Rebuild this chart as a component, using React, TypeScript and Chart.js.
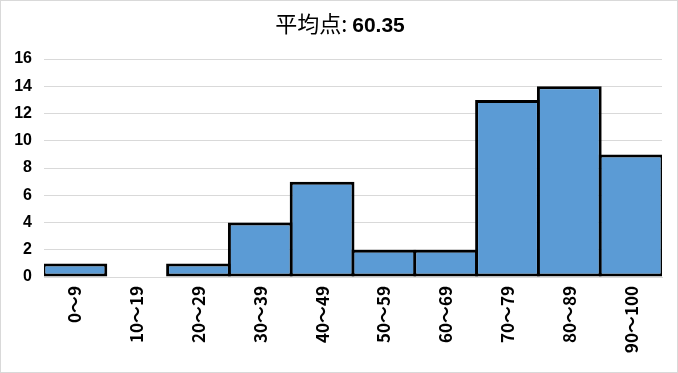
import React, { useEffect, useRef } from "react";
import { Chart, registerables } from "chart.js";

Chart.register(...registerables);

const categories = ["0〜9", "10〜19", "20〜29", "30〜39", "40〜49", "50〜59", "60〜69", "70〜79", "80〜89", "90〜100"];
const counts = [1, 0, 1, 4, 7, 2, 2, 13, 14, 9];
const titleLabel = "平均点: ";
const titleValue = "60.35";
const yMin = 0;
const yMax = 16;
const yStep = 2;

export default function App() {
  const ref = useRef<HTMLCanvasElement | null>(null);
  useEffect(() => {
    document.body.style.margin = "0";
    const ctx = ref.current!;
    const chart = new Chart(ctx, {
      type: "bar",
      data: {
        labels: categories,
        datasets: [
          {
            data: counts,
            backgroundColor: "#5B9BD5",
            borderColor: "#000000",
            borderWidth: 3,
            borderSkipped: false,
            categoryPercentage: 1,
            barPercentage: 1.048,
          },
        ],
      },
      options: {
        responsive: false,
        animation: false,
        layout: { padding: { left: 0, right: 15, top: 58, bottom: 0 } },
        plugins: {
          legend: { display: false },
          tooltip: { enabled: false },
          title: { display: false },
        },
        scales: {
          x: {
            grid: { display: false, drawTicks: false },
            border: { display: true, color: "#d9d9d9", width: 1 },
            ticks: {
              color: "#000000",
              maxRotation: 90,
              minRotation: 90,
              padding: 9,
              autoSkip: false,
              font: { family: "'Noto Sans CJK JP', sans-serif", size: 17, weight: "bold" },
            },
            afterFit: (s: any) => {
              s.height = 95;
            },
          },
          y: {
            min: yMin,
            max: yMax,
            ticks: {
              stepSize: yStep,
              color: "#000000",
              padding: 12,
              font: { family: "'Liberation Sans', sans-serif", size: 16, weight: "bold" },
            },
            grid: { color: "#d9d9d9", drawTicks: false, lineWidth: 1 },
            border: { display: false },
            afterFit: (s: any) => {
              s.width = 43;
            },
          },
        },
      },
    });
    return () => chart.destroy();
  }, []);
  return (
    <div
      style={{
        position: "fixed",
        left: 0,
        top: 0,
        width: 678,
        height: 373,
        boxSizing: "border-box",
        border: "1px solid #d9d9d9",
        background: "#ffffff",
        overflow: "hidden",
      }}
    >
      <div
        style={{
          position: "absolute",
          left: 0,
          top: 8,
          width: 678,
          textAlign: "center",
          fontSize: 22,
          lineHeight: "26px",
          color: "#000000",
          fontFamily: "'Noto Sans CJK JP', sans-serif",
        }}
      >
        <span>{titleLabel}</span>
        <span style={{ fontWeight: "bold", fontFamily: "'Liberation Sans', sans-serif", fontSize: 21 }}>{titleValue}</span>
      </div>
      <canvas ref={ref} width={676} height={371} style={{ display: "block" }} />
    </div>
  );
}
